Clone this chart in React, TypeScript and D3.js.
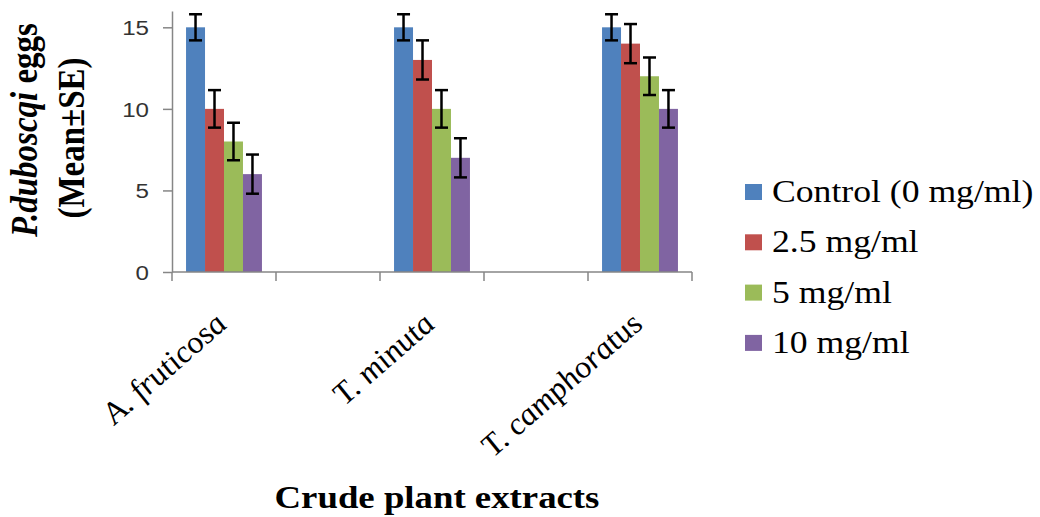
import React, { useEffect, useRef } from 'react';
import * as d3 from 'd3';

// Excel-style layout: blank slots between the plant extracts
const categories = ['A. fruticosa', '', 'T. minuta', '', 'T. camphoratus'];
const seriesNames = ['Control (0 mg/ml)', '2.5 mg/ml', '5 mg/ml', '10 mg/ml'];
const seriesColors = ['#4F81BD', '#C0504D', '#9BBB59', '#8064A2'];

// means (null = empty category slot)
const controlMean = [15, null, 15, null, 15];
const dose25Mean = [10, null, 13, null, 14];
const dose5Mean = [8, null, 10, null, 12];
const dose10Mean = [6, null, 7, null, 10];

// standard errors
const controlSE = [0.8, null, 0.8, null, 0.8];
const dose25SE = [1.15, null, 1.2, null, 1.2];
const dose5SE = [1.15, null, 1.15, null, 1.15];
const dose10SE = [1.2, null, 1.2, null, 1.15];

const yTicks = [0, 5, 10, 15];
const yMax = 16;

const means = [controlMean, dose25Mean, dose5Mean, dose10Mean];
const errors = [controlSE, dose25SE, dose5SE, dose10SE];

const App: React.FC = () => {
  const svgRef = useRef<SVGSVGElement>(null);

  useEffect(() => {
    if (!svgRef.current) return;
    document.body.style.margin = '0';

    const sx = 1.15; // the original picture is stretched sideways
    const serif = '"Liberation Serif", "Times New Roman", serif';
    const left = 172, right = 692, top = 11, bottom = 272;

    const svg = d3.select(svgRef.current);
    svg.selectAll('*').remove();

    const x = d3.scaleBand<string>()
      .domain(categories.map((_, i) => String(i)))
      .range([left, right]);

    const x1 = d3.scaleBand<number>()
      .domain(seriesNames.map((_, i) => i))
      .range([0, x.bandwidth()])
      .paddingOuter(0.74);

    const y = d3.scaleLinear().domain([0, yMax]).range([bottom, top]);

    // flatten into bar records
    const bars = categories.flatMap((_, ci) =>
      seriesNames.map((_, si) => ({ ci, si, v: means[si][ci], e: errors[si][ci] }))
    ).filter(d => d.v !== null);

    svg.append('g')
      .selectAll('rect')
      .data(bars)
      .join('rect')
      .attr('x', d => (x(String(d.ci)) || 0) + (x1(d.si) || 0))
      .attr('y', d => y(d.v as number))
      .attr('width', x1.bandwidth())
      .attr('height', d => y(0) - y(d.v as number))
      .attr('fill', d => seriesColors[d.si]);

    // error bars
    const eb = svg.append('g')
      .attr('stroke', '#000')
      .attr('stroke-width', 2.5)
      .selectAll('g')
      .data(bars)
      .join('g')
      .attr('transform', d => `translate(${(x(String(d.ci)) || 0) + (x1(d.si) || 0) + x1.bandwidth() / 2},0)`);
    eb.append('line')
      .attr('y1', d => y((d.v as number) - (d.e as number)))
      .attr('y2', d => y((d.v as number) + (d.e as number)));
    eb.append('line').attr('x1', -6.5).attr('x2', 6.5)
      .attr('y1', d => y((d.v as number) + (d.e as number)))
      .attr('y2', d => y((d.v as number) + (d.e as number)));
    eb.append('line').attr('x1', -6.5).attr('x2', 6.5)
      .attr('y1', d => y((d.v as number) - (d.e as number)))
      .attr('y2', d => y((d.v as number) - (d.e as number)));

    // Y axis
    const yAxis = svg.append('g')
      .attr('transform', `translate(${left},0)`)
      .call(d3.axisLeft(y).tickValues(yTicks).tickSize(9).tickSizeOuter(0).tickPadding(0));
    yAxis.selectAll('path, line').attr('stroke', '#868686').attr('stroke-width', 1.5);
    yAxis.selectAll('text').remove();
    yAxis.selectAll('.tick')
      .append('text')
      .attr('transform', `translate(-23,0) scale(${sx},1)`)
      .attr('dy', '0.35em')
      .attr('text-anchor', 'end')
      .style('font-family', '"Liberation Sans", Arial, sans-serif')
      .style('font-size', '21px')
      .attr('fill', '#333')
      .text(d => String(d));

    // X axis with ticks on band boundaries
    const xAxis = svg.append('g').attr('stroke', '#868686').attr('stroke-width', 1.5);
    xAxis.append('line').attr('x1', left).attr('x2', right).attr('y1', bottom).attr('y2', bottom);
    const bounds = categories.map((_, i) => x(String(i)) || 0).concat([right]);
    xAxis.selectAll('line.tick')
      .data(bounds)
      .join('line')
      .attr('class', 'tick')
      .attr('x1', d => d).attr('x2', d => d)
      .attr('y1', bottom).attr('y2', bottom + 9);

    // category labels
    svg.append('g')
      .selectAll('text')
      .data(categories.map((c, i) => ({ c, i })).filter(d => d.c !== ''))
      .join('text')
      .attr('transform', d => `translate(${(x(String(d.i)) || 0) + x.bandwidth() / 2 + 5},326) scale(${sx},1) rotate(-45)`)
      .attr('text-anchor', 'end')
      .style('font-family', serif)
      .style('font-style', 'italic')
      .style('font-size', '30px')
      .text(d => d.c);

    // axis titles
    const yTitle = svg.append('g').style('font-family', serif).style('font-weight', 'bold').style('font-size', '33px');
    const t1 = yTitle.append('text')
      .attr('transform', `translate(37,130) scale(${sx},1) rotate(-90)`)
      .attr('text-anchor', 'middle');
    t1.append('tspan').style('font-style', 'italic').text('P.duboscqi');
    t1.append('tspan').text(' eggs');
    yTitle.append('text')
      .attr('transform', `translate(84,138) scale(${sx},1) rotate(-90)`)
      .attr('text-anchor', 'middle')
      .text('(Mean±SE)');

    svg.append('text')
      .attr('transform', `translate(437,508) scale(${sx},1)`)
      .attr('text-anchor', 'middle')
      .style('font-family', serif)
      .style('font-weight', 'bold')
      .style('font-size', '32px')
      .text('Crude plant extracts');

    // legend
    const legend = svg.append('g')
      .selectAll('g')
      .data(seriesNames)
      .join('g')
      .attr('transform', (_, i) => `translate(745,${192 + i * 50.3})`);
    legend.append('rect')
      .attr('x', 0).attr('y', -8)
      .attr('width', 17).attr('height', 16)
      .attr('fill', (_, i) => seriesColors[i]);
    legend.append('text')
      .attr('transform', `translate(27,10) scale(${sx},1)`)
      .style('font-family', serif)
      .style('font-size', '31px')
      .text(d => d);
  }, []);

  return <svg ref={svgRef} width={1040} height={517} style={{ display: 'block', background: '#fff' }} />;
};

export default App;
